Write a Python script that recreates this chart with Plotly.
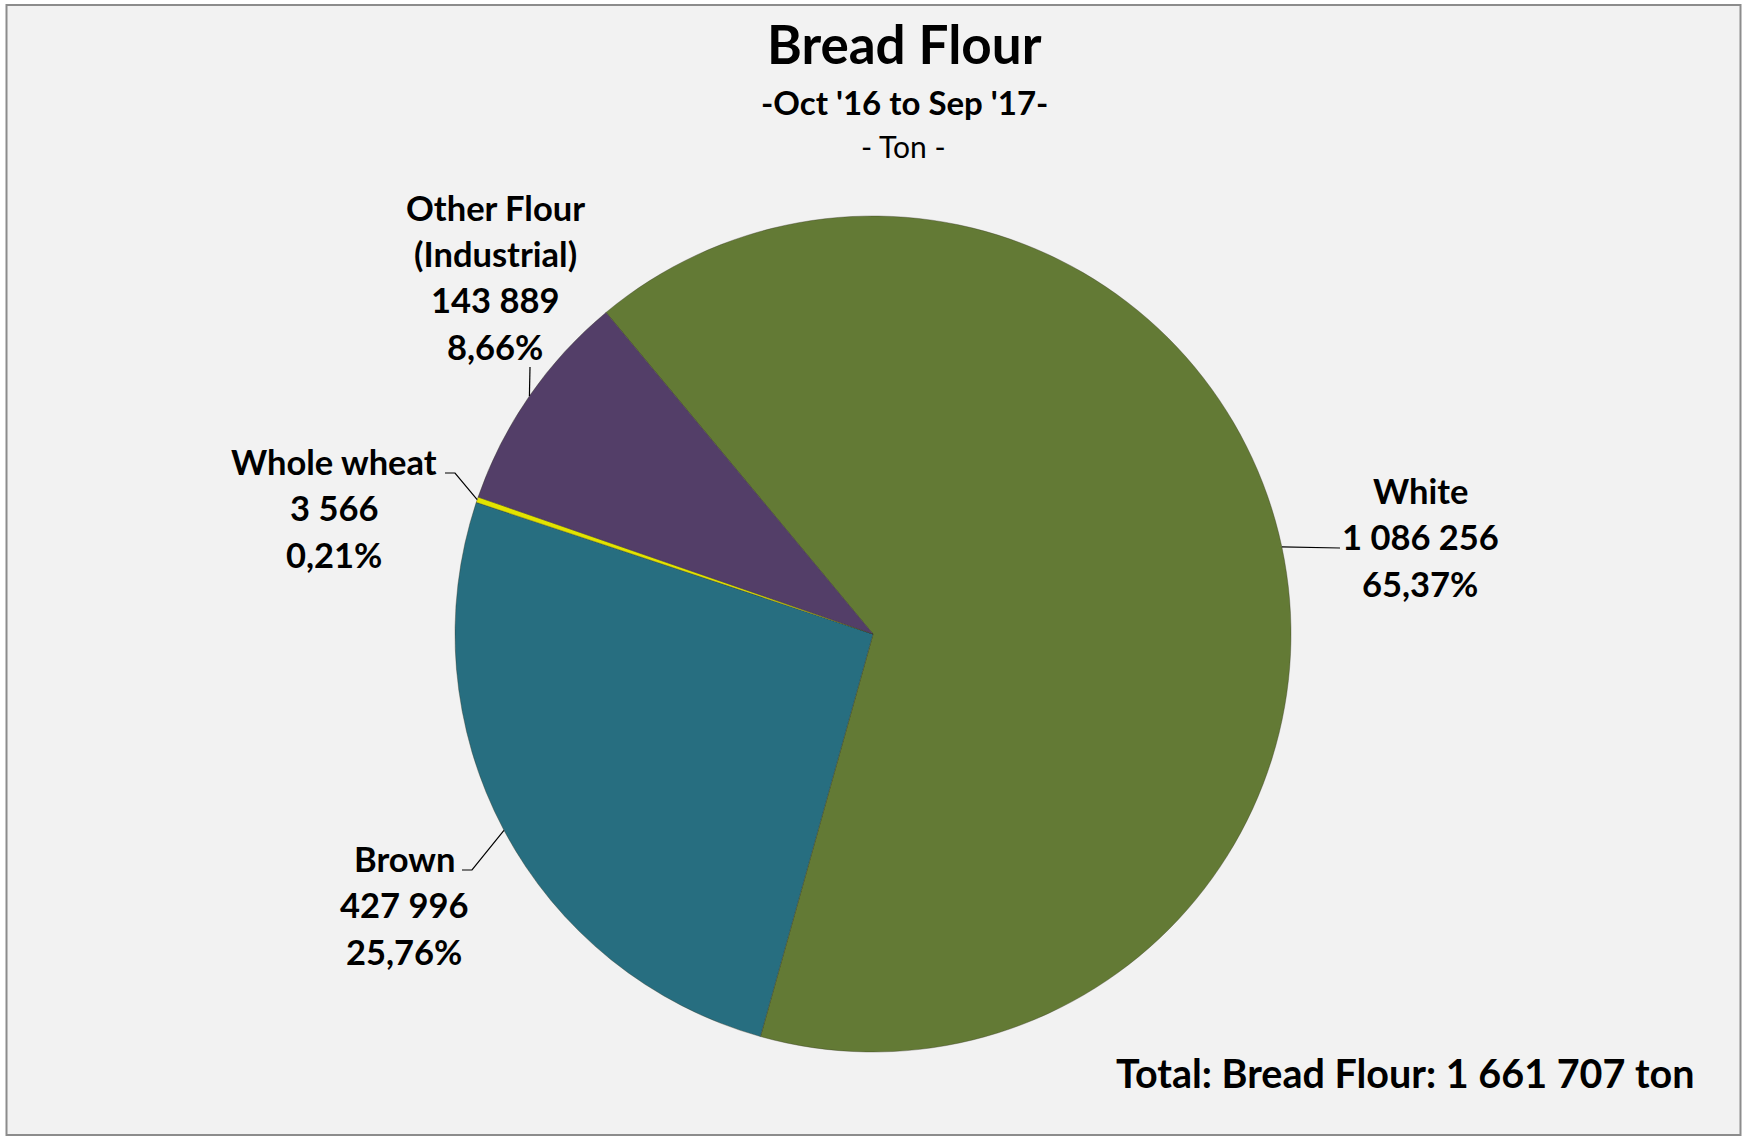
import math
import plotly.graph_objects as go

# ---- data -------------------------------------------------------------
categories = ["White", "Brown", "Whole wheat", "Other Flour (Industrial)"]
label_lines = [["White"], ["Brown"], ["Whole wheat"], ["Other Flour", "(Industrial)"]]
tons = [1086256, 427996, 3566, 143889]
colors = ["#637A35", "#276E80", "#E2E300", "#533E68"]

title = "Bread Flour"
subtitle = "-Oct '16 to Sep '17-"
unit_line = "- Ton -"

# ---- geometry (pixels) --------------------------------------------------
W, H = 1746, 1137
CX, CY, R = 873, 634, 418
ROTATION = -39.7
FONT = "Lato, 'Open Sans', sans-serif"

total = sum(tons)


def fx(x):
    return x / W


def fy(y):
    return 1 - y / H


def fmt_int(v):
    return f"{v:,}".replace(",", " ")


def fmt_pct(v):
    return f"{v / total * 100:.2f}".replace(".", ",") + "%"


# label block placement: centre x, first-line y, leader bend points
label_layout = {
    "White": dict(x=1420, y=490, bends=[(1340, 548)]),
    "Brown": dict(x=404, y=858, bends=[(472, 870), (462, 870)]),
    "Whole wheat": dict(x=334, y=461, bends=[(455, 473), (445, 473)]),
    "Other Flour (Industrial)": dict(x=495, y=207, bends=[(530, 367)]),
}
LINE_GAP = 46.5

fig = go.Figure(
    go.Pie(
        labels=categories,
        values=tons,
        sort=False,
        direction="clockwise",
        rotation=ROTATION,
        marker=dict(colors=colors, line=dict(width=1, color="rgba(50,50,30,0.35)")),
        textinfo="none",
        hoverinfo="skip",
        domain=dict(x=[fx(CX - R), fx(CX + R)], y=[fy(CY + R), fy(CY - R)]),
    )
)

annotations = []
shapes = []

# outer frame
shapes.append(dict(type="rect", xref="paper", yref="paper",
                   x0=fx(6.5), x1=fx(1740.5), y0=fy(1135), y1=fy(5),
                   line=dict(color="#8C8C8C", width=2), fillcolor="#F2F2F2",
                   layer="below"))

cum = 0
for cat, lines, v in zip(categories, label_lines, tons):
    mid = ROTATION + 360 * (cum + v / 2) / total
    cum += v
    a = math.radians(mid)
    ex, ey = CX + R * math.sin(a), CY - R * math.cos(a)
    lay = label_layout[cat]
    pts = [(ex, ey)] + lay["bends"]
    path = "M " + " L ".join(f"{fx(x):.5f},{fy(y):.5f}" for x, y in pts)
    shapes.append(dict(type="path", xref="paper", yref="paper", path=path,
                       line=dict(color="black", width=1.2)))
    texts = lines + [fmt_int(v), fmt_pct(v)]
    for i, t in enumerate(texts):
        annotations.append(dict(
            text=f"<b>{t}</b>", x=fx(lay["x"]), y=fy(lay["y"] + i * LINE_GAP),
            xref="paper", yref="paper", xanchor="center", yanchor="middle",
            showarrow=False, font=dict(family=FONT, size=34.5, color="black")))

# titles
annotations += [
    dict(text=f"<b>{title}</b>", x=fx(904), y=fy(44), xref="paper", yref="paper",
         xanchor="center", yanchor="middle", showarrow=False,
         font=dict(family=FONT, size=53, color="black")),
    dict(text=f"<b>{subtitle}</b>", x=fx(904), y=fy(102), xref="paper", yref="paper",
         xanchor="center", yanchor="middle", showarrow=False,
         font=dict(family=FONT, size=33, color="black")),
    dict(text=unit_line, x=fx(903), y=fy(146), xref="paper", yref="paper",
         xanchor="center", yanchor="middle", showarrow=False,
         font=dict(family=FONT, size=30, color="black")),
    dict(text=f"<b>Total: {title}: {fmt_int(total)} ton</b>", x=fx(1697), y=fy(1072),
         xref="paper", yref="paper", xanchor="right", yanchor="middle",
         showarrow=False, font=dict(family=FONT, size=39.5, color="black")),
]

fig.update_layout(
    width=W, height=H,
    margin=dict(l=0, r=0, t=0, b=0),
    paper_bgcolor="#FFFFFF",
    plot_bgcolor="#F2F2F2",
    showlegend=False,
    annotations=annotations,
    shapes=shapes,
)

fig.write_html("out.html", config={"displayModeBar": False})
